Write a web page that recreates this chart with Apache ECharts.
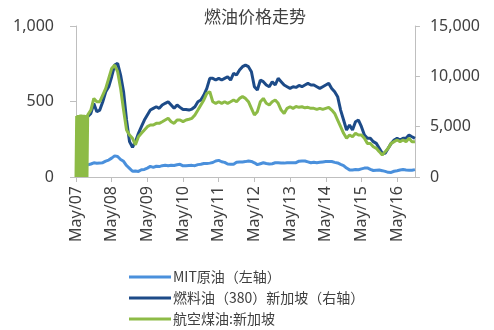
<!DOCTYPE html>
<html><head><meta charset="utf-8">
<script src="https://cdn.jsdelivr.net/npm/echarts@6/dist/echarts.min.js"></script>
<style>html,body{margin:0;padding:0;background:#fff}#c{width:483px;height:330px}</style>
</head><body><div id="c"></div>
<script>
// Month index 0 = May/07 ... 114 = Nov/16
const lastMonthIndex = 114;
const seriesStart = 4; // Sep/07
const tickLabels = ['May/07','May/08','May/09','May/10','May/11','May/12','May/13','May/14','May/15','May/16'];
const seriesNames = ['MIT原油（左轴）','燃料油（380）新加坡（右轴）','航空煤油:新加坡'];
// MIT crude (left axis), monthly from Sep/07
const crude = [80,86,94,91,92,95,105,112,125,140,136,116,104,76,57,38,40,37,48,50,59,70,64,71,69,75,78,74,78,76,81,84,74,75,76,77,75,82,84,89,89,92,96,106,110,101,97,86,85,84,97,99,100,102,106,103,94,82,88,94,89,86,88,94,95,93,92,95,95,94,95,105,106,106,100,94,98,94,97,100,102,102,103,97,93,84,76,59,47,47,50,48,54,59,60,51,43,45,46,42,37,31,30,38,41,46,49,46,45,45,49];
// Fuel oil 380 Singapore (right axis), monthly from Sep/07
const fuel = [6000,6320,7300,6490,6650,7480,8470,8970,9960,11120,11290,10130,8470,5660,3510,2950,3510,4340,5000,5660,6160,6650,6820,6980,6820,7150,7320,7480,7150,6820,7150,6920,6700,6700,6650,6750,6980,7480,7650,8140,8800,9800,9800,9630,9800,9630,9800,9960,9630,10290,10130,10630,10960,11120,10960,10460,8970,8640,9630,9470,9140,8970,9470,9140,9800,9470,9140,8970,8800,8970,8900,9100,8970,9140,9300,9140,9140,8970,8800,8970,9140,9300,8800,8470,7980,6650,5660,4670,5160,4670,5490,5660,5000,4170,3840,3840,3510,3340,2850,2350,2350,2850,3340,3670,3840,3670,3840,3840,4170,4000,3840];
// Jet fuel Singapore, weekly May-Aug/07 (noisy start), then monthly from Sep/07
const jetStartWeekly = [0,6050,0,6150,0,6100,0,6200,0,6120,0,6180,0,6100,0,6150,0,6160];
const jet = [6160,6650,7810,7480,7480,8140,8800,9800,10790,11120,10460,8800,6650,4670,4170,3840,3200,4000,4340,4670,5000,5160,5160,5330,5330,5490,5660,5830,5490,5330,5660,5660,5500,5660,5740,5830,6160,6650,7150,7650,8310,8470,7480,7320,7480,7320,7480,7320,7480,7650,7480,7810,7980,7810,7480,6820,6160,6490,7480,7810,7320,7150,7480,7650,7320,6650,6320,6820,6980,6820,7000,6920,6980,6870,6920,6820,6820,6720,6820,6720,6820,6920,6650,6320,5660,5000,4340,3840,4170,4000,4340,4170,4170,3840,3340,3340,3010,2850,2520,2180,2520,2850,3340,3510,3670,3510,3670,3510,3840,3510,3510];

const monthly = arr => arr.map((v, k) => [seriesStart + k, v]);
const jetData = jetStartWeekly.map((v, w) => [w * 12 / 52, v]).concat(monthly(jet));

const txt = '#404040';
const axisGray = '#bfbfbf';
const chart = echarts.init(document.getElementById('c'));
chart.setOption({
  animation: false,
  title: { text: '燃油价格走势', left: 250, textAlign: 'center', top: 3,
    textStyle: { fontFamily: 'Noto Sans CJK SC', fontSize: 17, fontWeight: 'normal', color: txt } },
  grid: { left: 76, right: 63, top: 26, bottom: 153 },
  legend: {
    orient: 'vertical', left: 129, top: 270, height: 70, padding: 0, itemGap: 7, itemWidth: 42, itemHeight: 3,
    icon: 'rect',
    textStyle: { fontFamily: 'Noto Sans CJK SC', fontSize: 14, color: txt, padding: [0,0,0,-3] },
    data: seriesNames
  },
  xAxis: {
    type: 'value', min: 0, max: lastMonthIndex, interval: 12,
    axisLine: { lineStyle: { color: axisGray } },
    axisTick: { length: 5, lineStyle: { color: axisGray } },
    splitLine: { show: false },
    axisLabel: { rotate: 90, margin: 9, fontFamily: 'Noto Sans', fontSize: 16, color: txt,
      showMaxLabel: false,
      formatter: v => (v % 12 === 0 ? tickLabels[v / 12] || '' : '') }
  },
  yAxis: [
    { type: 'value', min: 0, max: 1000, interval: 500, position: 'left',
      axisLine: { show: true, lineStyle: { color: axisGray } },
      axisTick: { show: true, length: 6, lineStyle: { color: axisGray } },
      splitLine: { show: false },
      axisLabel: { margin: 22, fontFamily: 'Noto Sans', fontSize: 16, color: txt } },
    { type: 'value', min: 0, max: 15000, interval: 5000, position: 'right',
      axisLine: { show: true, lineStyle: { color: axisGray } },
      axisTick: { show: true, length: 5, lineStyle: { color: axisGray } },
      splitLine: { show: false },
      axisLabel: { margin: 15, fontFamily: 'Noto Sans', fontSize: 16, color: txt } }
  ],
  series: [
    { name: seriesNames[0], type: 'line', yAxisIndex: 0, data: monthly(crude), showSymbol: false,
      lineStyle: { width: 3, color: '#4a90dc' }, itemStyle: { color: '#4a90dc' }, z: 3 },
    { name: seriesNames[1], type: 'line', yAxisIndex: 1, data: monthly(fuel), showSymbol: false,
      lineStyle: { width: 3, color: '#1d4b88' }, itemStyle: { color: '#1d4b88' }, z: 2 },
    { name: seriesNames[2], type: 'line', yAxisIndex: 1, data: jetData, showSymbol: false,
      lineStyle: { width: 3, color: '#8dbb46' }, itemStyle: { color: '#8dbb46' }, z: 4 }
  ]
});
</script></body></html>
